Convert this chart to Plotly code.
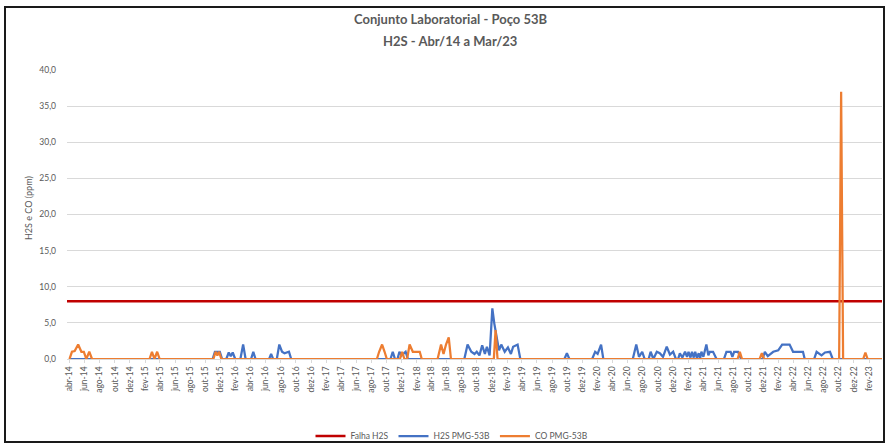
import pandas as pd
import plotly.graph_objects as go

# ---------------- data ----------------
falha_dates = ["2014-03-22", "2023-03-25"]
falha_values = [8.0, 8.0]

co_dates = [
    "2014-04-01", "2014-04-11", "2014-04-22", "2014-05-06", "2014-05-19", "2014-05-29", "2014-06-08",
    "2014-06-20", "2014-07-01",
    "2015-02-18", "2015-02-28", "2015-03-10", "2015-03-21", "2015-03-31",
    "2015-11-03", "2015-11-12", "2015-11-19", "2015-11-26", "2015-12-05",
    "2017-08-24", "2017-09-02", "2017-09-14", "2017-09-24", "2017-10-03",
    "2017-11-25", "2017-12-04", "2017-12-13",
    "2017-12-24", "2018-01-03", "2018-01-16", "2018-01-30", "2018-02-13", "2018-02-21",
    "2018-04-26", "2018-05-10", "2018-05-20", "2018-05-30", "2018-06-10", "2018-06-19",
    "2018-12-09", "2018-12-16", "2018-12-24",
    "2021-08-19", "2021-08-28", "2021-09-06",
    "2021-11-16", "2021-11-25", "2021-12-04",
    "2022-10-03", "2022-10-11", "2022-10-19",
    "2023-01-08", "2023-01-17", "2023-01-26",
    "2023-03-25",
]
co_values = [
    0.0, 1.0, 1.1, 2.0, 1.0, 1.0, 0.0,
    1.0, 0.0,
    0.0, 1.0, 0.0, 1.0, 0.0,
    0.0, 1.0, 0.5, 1.0, 0.0,
    0.0, 1.0, 2.0, 1.0, 0.0,
    0.0, 1.0, 0.0,
    0.0, 2.0, 1.0, 1.0, 1.0, 0.0,
    0.0, 2.0, 0.7, 2.0, 3.0, 0.0,
    0.0, 4.0, 0.0,
    0.0, 1.0, 0.0,
    0.0, 0.8, 0.0,
    0.0, 37.0, 0.0,
    0.0, 0.9, 0.0,
    0.0,
]

h2s_dates = [
    "2014-04-01",
    "2015-10-31", "2015-11-09", "2015-11-29", "2015-12-08",
    "2015-12-25", "2016-01-04", "2016-01-12", "2016-01-20", "2016-01-30",
    "2016-02-20", "2016-03-02", "2016-03-12",
    "2016-04-03", "2016-04-12", "2016-04-21",
    "2016-06-15", "2016-06-23", "2016-07-01",
    "2016-07-16", "2016-07-26", "2016-08-06", "2016-08-16", "2016-08-26", "2016-09-03", "2016-09-12",
    "2017-10-18", "2017-10-27", "2017-11-05",
    "2017-11-15", "2017-11-23", "2017-12-02", "2017-12-18", "2017-12-27",
    "2018-08-12", "2018-08-25", "2018-09-09", "2018-09-22", "2018-10-01", "2018-10-12", "2018-10-23",
    "2018-11-03", "2018-11-11", "2018-11-22", "2018-12-03", "2018-12-11", "2018-12-19", "2018-12-30",
    "2019-01-08", "2019-01-22", "2019-02-04", "2019-02-16", "2019-02-25", "2019-03-15", "2019-03-26",
    "2019-09-20", "2019-09-30", "2019-10-10",
    "2020-01-10", "2020-01-22", "2020-02-01", "2020-02-15", "2020-02-24",
    "2020-06-22", "2020-07-06", "2020-07-17", "2020-07-30", "2020-08-09",
    "2020-08-25", "2020-09-02", "2020-09-13", "2020-09-27", "2020-10-09", "2020-10-22", "2020-11-06",
    "2020-11-19", "2020-12-02", "2020-12-13",
    "2020-12-22", "2020-12-29", "2021-01-08", "2021-01-19", "2021-01-27", "2021-02-02", "2021-02-10",
    "2021-02-16", "2021-02-23", "2021-03-01", "2021-03-08", "2021-03-15", "2021-03-21", "2021-03-26",
    "2021-04-03", "2021-04-15", "2021-04-23", "2021-04-29", "2021-05-12", "2021-05-26",
    "2021-06-25", "2021-07-05", "2021-07-22", "2021-07-29", "2021-08-05", "2021-08-21", "2021-09-02",
    "2021-11-28", "2021-12-07", "2021-12-19", "2022-01-10", "2022-01-30", "2022-02-15", "2022-03-17",
    "2022-03-31", "2022-05-10", "2022-05-17",
    "2022-06-24", "2022-07-04", "2022-07-24", "2022-08-07", "2022-08-27", "2022-09-07",
    "2023-03-25",
]
h2s_values = [
    0.0,
    0.0, 1.0, 1.0, 0.0,
    0.0, 0.9, 0.4, 0.9, 0.0,
    0.0, 2.0, 0.0,
    0.0, 1.0, 0.0,
    0.0, 0.7, 0.0,
    0.0, 2.0, 1.0, 0.8, 0.9, 1.0, 0.0,
    0.0, 1.0, 0.0,
    0.0, 1.0, 0.5, 1.0, 0.0,
    0.0, 2.0, 1.0, 0.7, 1.0, 0.5, 1.9,
    0.7, 1.7, 0.5, 7.0, 4.9, 3.1, 1.2,
    2.0, 1.0, 1.6, 0.7, 1.7, 2.0, 0.0,
    0.0, 0.8, 0.0,
    0.0, 1.0, 0.7, 2.0, 0.0,
    0.0, 2.0, 0.3, 1.0, 0.0,
    0.0, 1.0, 0.0, 1.0, 0.8, 0.3, 1.7,
    0.6, 1.0, 0.0,
    0.0, 0.8, 0.2, 1.0, 0.3, 1.0, 0.2,
    1.0, 0.2, 1.0, 0.1, 0.8, 0.1, 1.0,
    0.3, 2.0, 0.5, 1.0, 1.0, 0.0,
    0.0, 1.0, 1.0, 0.3, 1.0, 1.0, 0.0,
    0.0, 1.0, 0.4, 1.0, 1.2, 2.0, 2.0,
    1.0, 1.0, 0.0,
    0.0, 1.0, 0.5, 0.9, 1.0, 0.0,
    0.0,
]

tick_labels = [
    "abr-14", "jun-14", "ago-14", "out-14", "dez-14",
    "fev-15", "abr-15", "jun-15", "ago-15", "out-15", "dez-15",
    "fev-16", "abr-16", "jun-16", "ago-16", "out-16", "dez-16",
    "fev-17", "abr-17", "jun-17", "ago-17", "out-17", "dez-17",
    "fev-18", "abr-18", "jun-18", "ago-18", "out-18", "dez-18",
    "fev-19", "abr-19", "jun-19", "ago-19", "out-19", "dez-19",
    "fev-20", "abr-20", "jun-20", "ago-20", "out-20", "dez-20",
    "fev-21", "abr-21", "jun-21", "ago-21", "out-21", "dez-21",
    "fev-22", "abr-22", "jun-22", "ago-22", "out-22", "dez-22",
    "fev-23",
]
tick_dates = pd.date_range("2014-04-01", periods=len(tick_labels), freq="2MS")

title_line1 = "Conjunto Laboratorial - Poço 53B"
title_line2 = "H2S - Abr/14 a Mar/23"
y_title = "H2S e CO (ppm)"
series_names = ["Falha H2S", "H2S PMG-53B", "CO PMG-53B"]

# ---------------- figure ----------------
FONT = "Lato, 'Open Sans', sans-serif"
GREY = "#595959"
W, H = 886, 445
L, R, T, B = 67, 4, 70, 86
PW, PH = W - L - R, H - T - B


def px_x(x):
    return (x - L) / PW


def px_y(y):
    return (H - B - y) / PH


fig = go.Figure()
fig.add_trace(go.Scatter(x=pd.to_datetime(falha_dates), y=falha_values, mode="lines",
                         name=series_names[0], line=dict(color="#C00000", width=2.5)))
fig.add_trace(go.Scatter(x=pd.to_datetime(h2s_dates), y=h2s_values, mode="lines",
                         name=series_names[1], line=dict(color="#4472C4", width=2.25)))
fig.add_trace(go.Scatter(x=pd.to_datetime(co_dates), y=co_values, mode="lines",
                         name=series_names[2], line=dict(color="#ED7D31", width=2.25)))

fig.update_layout(
    width=W, height=H,
    margin=dict(l=L, r=R, t=T, b=B, autoexpand=False),
    paper_bgcolor="white", plot_bgcolor="white",
    separators=",.",
    font=dict(family=FONT, color=GREY, size=9),
    showlegend=True,
    legend=dict(orientation="h", x=px_x(452), xanchor="center", y=px_y(436), yanchor="middle",
                font=dict(size=8.5, color=GREY), itemwidth=30, tracegroupgap=0,
                bgcolor="rgba(0,0,0,0)"),
)

fig.update_xaxes(
    type="date",
    range=["2014-03-22", "2023-03-25"],
    tickmode="array", tickvals=tick_dates, ticktext=tick_labels,
    tickangle=-90, tickfont=dict(size=8.5, color=GREY, family=FONT),
    showgrid=False, showline=True, linecolor="#D9D9D9", linewidth=1,
    ticks="outside", ticklen=3, tickcolor="#D9D9D9",
    zeroline=False,
)
fig.update_yaxes(
    range=[0, 40], dtick=5, tick0=0, tickformat=".1f",
    tickfont=dict(size=8.5, color=GREY, family=FONT),
    showgrid=True, gridcolor="#D9D9D9", gridwidth=1,
    zeroline=False, showline=False, ticks="", ticklabelstandoff=10,
)

fig.add_annotation(text="<b>" + title_line1 + "</b>", xref="paper", yref="paper",
                   x=px_x(450), y=px_y(19), xanchor="center", yanchor="middle",
                   showarrow=False, font=dict(size=13, color=GREY, family=FONT))
fig.add_annotation(text="<b>" + title_line2 + "</b>", xref="paper", yref="paper",
                   x=px_x(450), y=px_y(41), xanchor="center", yanchor="middle",
                   showarrow=False, font=dict(size=13, color=GREY, family=FONT))
fig.add_annotation(text=y_title, xref="paper", yref="paper",
                   x=px_x(28), y=px_y(208), xanchor="center", yanchor="middle",
                   textangle=-90, showarrow=False, font=dict(size=9, color=GREY, family=FONT))

fig.add_shape(type="rect", xref="paper", yref="paper",
              x0=px_x(5), x1=px_x(884), y0=px_y(442), y1=px_y(7),
              line=dict(color="#1a1a1a", width=2), fillcolor="rgba(0,0,0,0)", layer="above")

fig.write_html("out.html",
               config={"displayModeBar": False},
               post_script="document.body.style.margin='0';document.body.style.overflow='hidden';")
